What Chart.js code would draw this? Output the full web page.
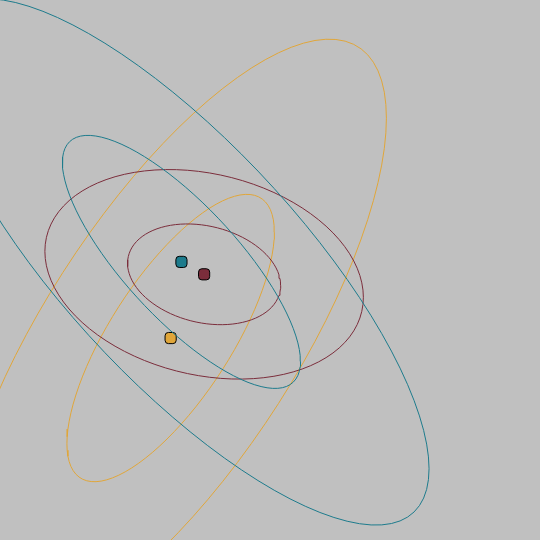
<!DOCTYPE html>
<html>
<head>
<meta charset="utf-8">
<script src="https://cdn.jsdelivr.net/npm/chart.js@4"></script>
<style>
  html, body { margin: 0; padding: 0; background: #c0c0c0; }
  .wrap { width: 540px; height: 540px; }
</style>
</head>
<body>
<div class="wrap"><canvas id="main_chart"></canvas></div>
<script>
// chart data
const groups = ["teal", "maroon", "orange"];
const meanX = [3.36, 3.78, 3.16];
const meanY = [5.15, 4.92, 3.74];
// covariance of each group: var x, cov xy, var y
const varX = [4.86, 2.01, 3.69];
const covXY = [-4.06, -0.29, 3.76];
const varY = [5.49, 0.87, 7.08];
// scale factors of the drawn contours
const levels = [1, 2.08];

const colors = ['#1d7b8c', '#7b2d3b', '#e0a63a'];

// contour of one covariance ellipse, built from the group's mean and covariance
function contour(i, k) {
    const l11 = Math.sqrt(varX[i]);
    const l21 = covXY[i] / l11;
    const l22 = Math.sqrt(varY[i] - l21 * l21);
    const pts = [];
    const n = 90;
    for (let j = 0; j <= n; j++) {
        const t = j / n * 2 * Math.PI;
        const c = Math.cos(t), s = Math.sin(t);
        pts.push({ x: meanX[i] + k * l11 * c, y: meanY[i] + k * (l21 * c + l22 * s) });
    }
    return pts;
}

let datasets = [];
groups.forEach((g, i) => {
    levels.forEach((k) => {
        datasets.push({
            label: g + " " + k,
            data: contour(i, k),
            showLine: true,
            borderColor: colors[i],
            borderWidth: 1,
            pointRadius: 0,
            fill: false,
            tension: 0
        });
    });
});
groups.forEach((g, i) => {
    datasets.push({
        label: g,
        data: [{ x: meanX[i], y: meanY[i] }],
        backgroundColor: colors[i],
        borderColor: '#000000',
        borderWidth: 1,
        pointStyle: 'rectRounded',
        pointRadius: 6.5
    });
});

let chart1 = new Chart(document.getElementById('main_chart'), {
    type: 'scatter',
    data: { datasets: datasets },
    options: {
        responsive: true,
        maintainAspectRatio: false,
        animation: false,
        layout: { padding: 0, autoPadding: false },
        plugins: { legend: { display: false }, tooltip: { enabled: false } },
        scales: {
            x: { display: false, min: 0, max: 10 },
            y: { display: false, min: 0, max: 10 }
        }
    }
});
</script>
</body>
</html>
